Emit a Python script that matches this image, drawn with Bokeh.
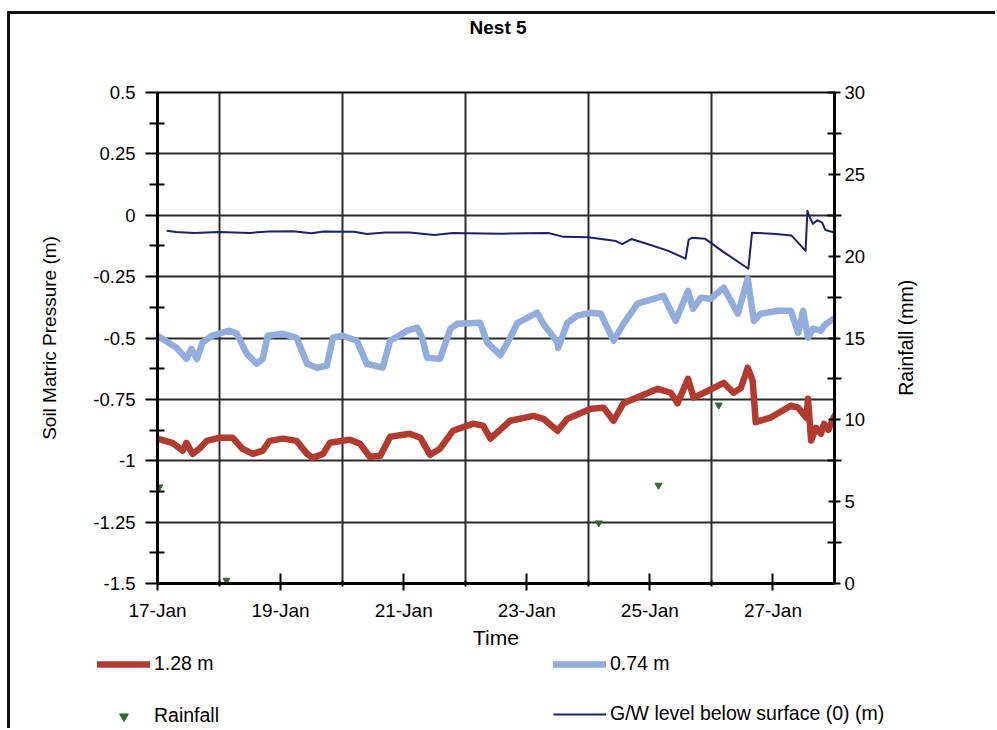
import math
from bokeh.plotting import figure
from bokeh.layouts import column, row
from bokeh.models import Range1d, LinearAxis, FixedTicker, Legend, LegendItem, Label
from bokeh.embed import file_html
from bokeh.resources import INLINE

# ---------------- data ----------------
title_text = "Nest 5"
left_axis_title = "Soil Matric Pressure (m)"
right_axis_title = "Rainfall (mm)"
x_axis_title = "Time"
x_tick_days = [17, 19, 21, 23, 25, 27]
x_tick_labels = ["17-Jan", "19-Jan", "21-Jan", "23-Jan", "25-Jan", "27-Jan"]
x_grid_days = [18, 20, 22, 24, 26]
y_ticks = [-1.5, -1.25, -1, -0.75, -0.5, -0.25, 0, 0.25, 0.5]
y_tick_labels = ["-1.5", "-1.25", "-1", "-0.75", "-0.5", "-0.25", "0", "0.25", "0.5"]
y_minor = [-1.375, -1.125, -0.875, -0.625, -0.375, -0.125, 0.125, 0.375]
rain_ticks = [0, 5, 10, 15, 20, 25, 30]
rain_minor = [2.5, 7.5, 12.5, 17.5, 22.5, 27.5]
legend_labels = ["1.28 m", "0.74 m", "Rainfall", "G/W level below surface (0) (m)"]

# 1.28 m sensor (day of January, soil matric pressure m)
d128 = [17.0, 17.24, 17.41, 17.47, 17.57, 17.68, 17.80, 18.01, 18.22, 18.38, 18.55,
        18.71, 18.82, 19.04, 19.26, 19.43, 19.52, 19.69, 19.80, 20.13, 20.29, 20.45,
        20.62, 20.78, 21.10, 21.27, 21.43, 21.59, 21.80, 22.13, 22.29, 22.41, 22.73,
        23.11, 23.27, 23.50, 23.66, 24.04, 24.25, 24.41, 24.57, 25.13, 25.34, 25.45,
        25.62, 25.71, 25.88, 26.20, 26.36, 26.48, 26.59, 26.67, 26.72, 26.97, 27.29,
        27.41, 27.54, 27.57, 27.62, 27.70, 27.78, 27.83, 27.90, 28.0]
v128 = [-0.910, -0.927, -0.959, -0.927, -0.972, -0.951, -0.919, -0.906, -0.906, -0.951, -0.972,
        -0.959, -0.919, -0.910, -0.919, -0.972, -0.988, -0.972, -0.927, -0.914, -0.931, -0.984,
        -0.980, -0.902, -0.890, -0.906, -0.976, -0.951, -0.878, -0.849, -0.857, -0.910, -0.837,
        -0.817, -0.829, -0.878, -0.829, -0.788, -0.784, -0.837, -0.766, -0.707, -0.723, -0.766,
        -0.666, -0.743, -0.723, -0.683, -0.723, -0.703, -0.621, -0.674, -0.843, -0.823, -0.776,
        -0.784, -0.825, -0.747, -0.918, -0.866, -0.890, -0.850, -0.874, -0.817]

# 0.74 m sensor
d074 = [17.0, 17.31, 17.47, 17.55, 17.64, 17.73, 17.88, 18.17, 18.29, 18.45, 18.61, 18.71,
        18.79, 19.04, 19.26, 19.43, 19.59, 19.75, 19.85, 20.01, 20.24, 20.40, 20.66, 20.78,
        21.06, 21.22, 21.30, 21.38, 21.59, 21.76, 21.87, 22.24, 22.36, 22.57, 22.73, 22.85,
        23.17, 23.27, 23.50, 23.51, 23.66, 23.82, 24.04, 24.20, 24.41, 24.57, 24.80, 25.22,
        25.42, 25.62, 25.70, 25.83, 25.99, 26.20, 26.43, 26.59, 26.69, 26.80, 27.08, 27.29,
        27.41, 27.49, 27.57, 27.65, 27.78, 27.83, 27.98]
v074 = [-0.491, -0.540, -0.585, -0.544, -0.585, -0.519, -0.491, -0.470, -0.483, -0.564, -0.605, -0.585,
        -0.491, -0.483, -0.499, -0.605, -0.621, -0.613, -0.499, -0.491, -0.511, -0.605, -0.621, -0.511,
        -0.470, -0.458, -0.499, -0.580, -0.585, -0.462, -0.442, -0.438, -0.519, -0.570, -0.499, -0.438,
        -0.397, -0.442, -0.519, -0.540, -0.438, -0.409, -0.397, -0.401, -0.511, -0.442, -0.360, -0.328,
        -0.430, -0.308, -0.381, -0.336, -0.340, -0.295, -0.401, -0.259, -0.430, -0.401, -0.389, -0.389,
        -0.479, -0.389, -0.499, -0.462, -0.470, -0.450, -0.422]

# groundwater level below surface (m)
dgw = [17.15, 17.3, 17.6, 18.0, 18.5, 18.8, 19.2, 19.5, 19.7, 20.2, 20.4, 20.7, 21.1, 21.5,
       21.8, 22.3, 22.6, 23.0, 23.35, 23.6, 24.0, 24.45, 24.55, 24.7, 25.0, 25.3, 25.58,
       25.63, 25.68, 25.9, 26.2, 26.6, 26.66, 27.0, 27.3, 27.53, 27.56, 27.6, 27.65, 27.72,
       27.8, 27.85, 28.0]
vgw = [-0.063, -0.068, -0.072, -0.068, -0.072, -0.066, -0.065, -0.073, -0.066, -0.067, -0.076,
       -0.070, -0.070, -0.080, -0.072, -0.074, -0.075, -0.073, -0.072, -0.088, -0.090, -0.105,
       -0.118, -0.097, -0.120, -0.145, -0.177, -0.100, -0.092, -0.096, -0.150, -0.218, -0.071,
       -0.075, -0.082, -0.145, 0.018, -0.010, -0.035, -0.020, -0.030, -0.060, -0.070]

# rainfall (mm)
rain_day = [17.03, 18.12, 24.17, 25.14, 26.12]
rain_mm = [5.9, 0.2, 3.7, 6.0, 10.9]

# ---------------- styles ----------------
FONT = "Liberation Sans"
S128 = dict(line_color="#b23b30", line_width=6.5, line_join="round", line_cap="round")
S074 = dict(line_color="#92acdb", line_width=6.5, line_join="round", line_cap="round")
SGW = dict(line_color="#1c216e", line_width=2, line_join="round")
SRAIN = dict(marker="inverted_triangle", size=7, fill_color="#2d6a30", line_color="#2d6a30")


def strip(w, h):
    f = figure(width=w, height=h, x_range=Range1d(0, 1), y_range=Range1d(0, 1),
               output_backend="svg", toolbar_location=None, min_border=0,
               x_axis_type=None, y_axis_type=None)
    f.outline_line_color = None
    f.background_fill_color = "white"
    f.border_fill_color = "white"
    f.frame_align = False
    return f

# ---------------- title strip ----------------
t = strip(985, 34)
t.add_layout(Label(x=0.495, y=0.618, text=title_text, text_align="center", text_baseline="middle",
                   text_font=FONT, text_font_size="19px", text_font_style="bold", text_color="black"))

# ---------------- main figure ----------------
p = figure(width=875, height=604, x_range=Range1d(17, 28), y_range=Range1d(-1.5, 0.5),
           output_backend="svg", toolbar_location=None,
           min_border_left=147, min_border_right=51, min_border_top=44, min_border_bottom=69)
p.frame_align = False
p.extra_y_ranges = {"rain": Range1d(0, 30)}
p.background_fill_color = "white"
p.border_fill_color = "white"
p.outline_line_color = "black"
p.outline_line_width = 2

p.xgrid[0].ticker = FixedTicker(ticks=x_grid_days)
p.ygrid[0].ticker = FixedTicker(ticks=[v for v in y_ticks if -1.5 < v < 0.5])
for g in (p.xgrid[0], p.ygrid[0]):
    g.grid_line_color = "#2a2a2a"
    g.grid_line_width = 2

xa = p.xaxis[0]
xa.ticker = FixedTicker(ticks=x_tick_days, minor_ticks=x_grid_days)
xa.major_label_overrides = dict(zip(x_tick_days, x_tick_labels))
xa.axis_label = x_axis_title
xa.axis_label_text_font_size = "21px"
xa.axis_label_standoff = 2
xa.major_label_text_font_size = "19px"
xa.major_label_standoff = 9
xa.major_tick_in = 10
xa.major_tick_out = 7
xa.minor_tick_in = 3
xa.minor_tick_out = 3

ya = p.yaxis[0]
ya.ticker = FixedTicker(ticks=y_ticks, minor_ticks=y_minor)
ya.major_label_overrides = dict(zip(y_ticks, y_tick_labels))
ya.axis_label = left_axis_title
ya.axis_label_text_font_size = "19px"
ya.axis_label_standoff = 30
ya.major_label_text_font_size = "18.5px"
ya.major_label_standoff = 10
ya.major_tick_in = 0
ya.major_tick_out = 12
ya.minor_tick_in = 7
ya.minor_tick_out = 8

ra = LinearAxis(y_range_name="rain", ticker=FixedTicker(ticks=rain_ticks, minor_ticks=rain_minor))
ra.major_label_text_font_size = "18.5px"
ra.major_label_standoff = 3
ra.major_tick_in = 6
ra.major_tick_out = 6
ra.minor_tick_in = 7
ra.minor_tick_out = 7
p.add_layout(ra, "right")

for ax in (xa, ya, ra):
    ax.axis_line_color = "black"
    ax.axis_line_width = 3
    ax.major_tick_line_color = "black"
    ax.major_tick_line_width = 2
    ax.minor_tick_line_color = "black"
    ax.minor_tick_line_width = 2
    ax.major_label_text_color = "black"
    ax.major_label_text_font = FONT
    ax.axis_label_text_font = FONT
    ax.axis_label_text_font_style = "normal"
    ax.axis_label_text_color = "black"

p.line(d128, v128, **S128)
p.line(d074, v074, **S074)
p.line(dgw, vgw, **SGW)
p.scatter(rain_day, rain_mm, y_range_name="rain", **SRAIN)

# ---------------- right axis title strip ----------------
r = strip(40, 604)
r.add_layout(Label(x=0.5, y=0.521, text=right_axis_title, angle=math.pi / 2,
                   text_align="center", text_baseline="middle",
                   text_font=FONT, text_font_size="19.5px", text_color="black"))

# ---------------- legend strip ----------------
q = strip(985, 76)
nan = float("nan")
k128 = q.line([nan], [nan], **S128)
k074 = q.line([nan], [nan], **S074)
krain = q.scatter([nan], [nan], **SRAIN)
kgw = q.line([nan], [nan], **SGW)


def add_leg(rend, label, vx, vy):
    lg = Legend(items=[LegendItem(label=label, renderers=[rend])], location=(vx, vy),
                padding=0, margin=0, spacing=0, glyph_width=53, glyph_height=22,
                label_height=22, label_standoff=4, border_line_alpha=0,
                background_fill_alpha=0, label_text_font=FONT, label_text_font_size="19.5px",
                label_text_color="black")
    q.add_layout(lg)


add_leg(k128, legend_labels[0], 87, 53)
add_leg(k074, legend_labels[1], 543, 53)
add_leg(krain, legend_labels[2], 87, 1)
add_leg(kgw, legend_labels[3], 543, 3)

page = column(t, row(p, r, spacing=0), q, spacing=0,
              styles={"margin-left": "7px", "margin-top": "11px",
                      "border-left": "3px solid #111", "border-top": "3px solid #111"})

open("out.html", "w").write(file_html(page, INLINE))
